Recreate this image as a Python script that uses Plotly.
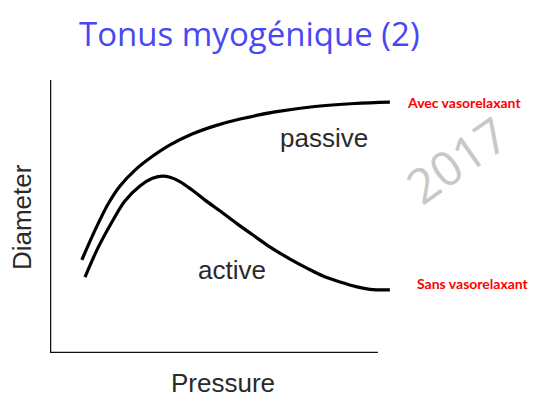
import plotly.graph_objects as go

# Data (arbitrary units)
passive_pressure = [9.1, 12.9, 16.6, 20.0, 24.3, 28.6, 34.3, 40.6, 47.1, 54.3, 64.3, 75.7, 87.1, 97.1]
passive_diameter = [34.1, 45.1, 54.6, 61.2, 67.0, 71.4, 76.2, 80.2, 83.2, 85.7, 88.3, 90.3, 91.4, 91.9]
active_pressure = [10.0, 13.7, 17.7, 21.4, 25.7, 29.1, 32.0, 34.3, 37.1, 40.6, 44.3, 48.6, 53.4, 58.0,
                   62.9, 68.6, 73.4, 78.0, 82.9, 87.7, 91.4, 97.1]
active_diameter = [27.8, 38.5, 48.0, 55.7, 61.2, 63.9, 64.8, 64.4, 62.8, 59.7, 56.0, 52.0, 47.4, 43.2,
                   38.8, 34.4, 31.1, 28.2, 26.0, 24.2, 23.3, 23.1]

fig = go.Figure()
fig.add_trace(go.Scatter(x=passive_pressure, y=passive_diameter, mode="lines",
                         line=dict(color="black", width=3.2, shape="spline", smoothing=1),
                         hoverinfo="skip"))
fig.add_trace(go.Scatter(x=active_pressure, y=active_diameter, mode="lines",
                         line=dict(color="black", width=3.2, shape="spline", smoothing=1),
                         hoverinfo="skip"))

# axis lines
fig.add_shape(type="line", xref="x", yref="y", x0=0, y0=0, x1=0, y1=100,
              line=dict(color="#111", width=2.5))
fig.add_shape(type="line", xref="x", yref="y", x0=0, y0=0, x1=93.7, y1=0,
              line=dict(color="#111", width=2.5))

C = dict(xanchor="center", yanchor="middle", showarrow=False)
lab = dict(family="Liberation Sans, Arial, sans-serif", size=26, color="#2a2a2a")
fig.add_annotation(x=78.3, y=78.8, text="passive", font=lab, **C)
fig.add_annotation(x=52, y=30.4, text="active", font=lab, **C)
fig.add_annotation(x=49.4, y=-0.11, yref="paper", text="Pressure", font=lab, **C)
fig.add_annotation(x=-0.08, y=0.498, xref="paper", yref="paper", text="Diameter",
                   textangle=-90, font=lab, **C)

red = dict(family="Lato, sans-serif", size=14, color="#ff0000")
fig.add_annotation(x=1.014, y=0.919, xref="paper", yref="paper", text="<b>Avec vasorelaxant</b>",
                   xanchor="left", yanchor="middle", showarrow=False, font=red)
fig.add_annotation(x=1.043, y=0.256, xref="paper", yref="paper", text="<b>Sans vasorelaxant</b>",
                   xanchor="left", yanchor="middle", showarrow=False, font=red)
fig.add_annotation(x=1.163, y=0.707, xref="paper", yref="paper", text="2017", textangle=-35,
                   font=dict(family="Open Sans, sans-serif", size=48, color="#c8c8c8"), **C)
fig.add_annotation(x=0.571, y=1.172, xref="paper", yref="paper", text="Tonus myogénique (2)",
                   font=dict(family="Open Sans, sans-serif", size=33, color="#4747f5"), **C)

fig.update_xaxes(range=[0, 100], visible=False)
fig.update_yaxes(range=[0, 100], visible=False)
fig.update_layout(width=543, height=392, margin=dict(l=42, r=151, t=72, b=47),
                  plot_bgcolor="white", paper_bgcolor="white", showlegend=False)
fig.write_html("out.html")
